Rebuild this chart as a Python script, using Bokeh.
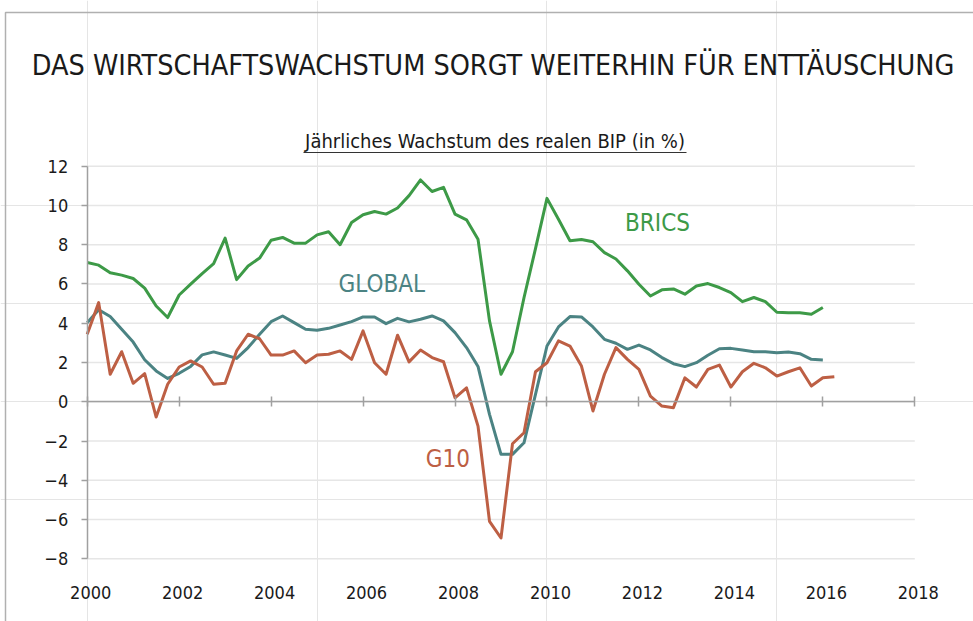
from bokeh.plotting import figure
from bokeh.models import Label, LinearAxis, FixedTicker, Range1d
from bokeh.embed import file_html
from bokeh.resources import INLINE

FONT = "DejaVu Sans Condensed, Roboto"

# Quarterly real GDP growth (%), starting Q1 2000
brics = [7.09, 6.96, 6.57, 6.45, 6.28, 5.79, 4.88, 4.29, 5.44, 5.99,
         6.53, 7.04, 8.34, 6.22, 6.92, 7.32, 8.23, 8.37, 8.08, 8.08,
         8.5, 8.66, 8.0, 9.13, 9.53, 9.69, 9.56, 9.87, 10.5, 11.3,
         10.71, 10.92, 9.56, 9.27, 8.28, 4.12, 1.4, 2.55, 5.3, 7.8,
         10.36, 9.3, 8.2, 8.27, 8.15, 7.6, 7.27, 6.67, 5.99, 5.39,
         5.7, 5.75, 5.48, 5.9, 6.02, 5.82, 5.56, 5.1, 5.31, 5.1,
         4.56, 4.53, 4.53, 4.46, 4.8]
global_ = [4.03, 4.69, 4.34, 3.69, 3.04, 2.14, 1.57, 1.19, 1.45, 1.8,
           2.39, 2.54, 2.38, 2.21, 2.76, 3.44, 4.08, 4.37, 4.03, 3.69,
           3.64, 3.74, 3.91, 4.08, 4.32, 4.32, 3.98, 4.25, 4.07, 4.2,
           4.37, 4.12, 3.52, 2.76, 1.8, -0.64, -2.68, -2.68, -2.09, 0.38,
           2.84, 3.81, 4.34, 4.32, 3.81, 3.18, 2.98, 2.67, 2.89, 2.64,
           2.25, 1.94, 1.79, 1.99, 2.37, 2.7, 2.72, 2.64, 2.55, 2.55,
           2.5, 2.53, 2.45, 2.16, 2.13]
g10 = [3.44, 5.05, 1.4, 2.55, 0.94, 1.43, -0.78, 0.89, 1.77, 2.08,
       1.77, 0.89, 0.94, 2.59, 3.44, 3.21, 2.38, 2.38, 2.59, 1.99,
       2.38, 2.42, 2.59, 2.16, 3.61, 1.99, 1.4, 3.39, 2.03, 2.64,
       2.25, 2.04, 0.2, 0.71, -1.24, -6.09, -6.94, -2.14, -1.58, 1.53,
       1.99, 3.1, 2.84, 1.82, -0.47, 1.4, 2.76, 2.16, 1.65, 0.29,
       -0.22, -0.3, 1.22, 0.75, 1.65, 1.87, 0.75, 1.53, 1.96, 1.73,
       1.31, 1.53, 1.73, 0.8, 1.22, 1.28]

start_year = 2000
x_ticks = [2000, 2002, 2004, 2006, 2008, 2010, 2012, 2014, 2016, 2018]
y_ticks = [-8, -6, -4, -2, 0, 2, 4, 6, 8, 10, 12]

title_text = "DAS WIRTSCHAFTSWACHSTUM SORGT WEITERHIN FÜR ENTTÄUSCHUNG"
subtitle_text = "Jährliches Wachstum des realen BIP (in %)"

C_BRICS = "#3d9a47"
C_GLOBAL = "#4b8383"
C_G10 = "#bd5f44"
GRID = "#e6e6e6"
AXIS = "#a0a0a0"
BORDER = "#b0b0b0"
TEXT = "#1a1a1a"

W, H = 973, 621
# plot area (pixels on the page) that holds 2000..2018 and -8..12
PX_L, PX_R, PX_T, PX_B = 86.7, 914.3, 165.7, 558.3
X0, X1 = x_ticks[0], x_ticks[-1]
Y0, Y1 = y_ticks[0], y_ticks[-1]
kx = (PX_R - PX_L) / (X1 - X0)
ky = (PX_B - PX_T) / (Y1 - Y0)
xr = Range1d(X0 - PX_L / kx, X0 + (W - PX_L) / kx)
yr = Range1d(Y1 - (H - PX_T) / ky, Y1 + PX_T / ky)
LABEL_SHIFT = 3.5  # year labels sit slightly right of their ticks


def sx(px):
    return X0 + (px - PX_L) / kx


def sy(py):
    return Y1 - (py - PX_T) / ky


def quarters(n):
    return [start_year + i / 4 for i in range(n)]


p = figure(width=W, height=H, output_backend="svg", toolbar_location=None,
           x_range=xr, y_range=yr, x_axis_location=None, y_axis_location=None,
           min_border=0)
p.extra_x_ranges = {"labels": Range1d(xr.start - LABEL_SHIFT / kx, xr.end - LABEL_SHIFT / kx)}
p.outline_line_color = None
p.background_fill_color = "white"
p.border_fill_color = "white"

# horizontal grid lines, limited to the plot period
p.segment(x0=[X0] * len(y_ticks), x1=[X1] * len(y_ticks), y0=y_ticks, y1=y_ticks,
          line_color=GRID, line_width=1.5)

# y axis at 2000
ya = LinearAxis(fixed_location=X0, bounds=(Y0, Y1), ticker=FixedTicker(ticks=y_ticks))
ya.axis_line_color = AXIS
ya.axis_line_width = 1.5
ya.major_tick_line_color = AXIS
ya.major_tick_line_width = 1.5
ya.major_tick_in = 0
ya.major_tick_out = 6
ya.minor_tick_line_color = None
ya.major_label_standoff = 13
ya.major_label_text_font = FONT
ya.major_label_text_font_size = "18px"
ya.major_label_text_color = TEXT
p.add_layout(ya, "left")

# zero line with ticks
za = LinearAxis(fixed_location=0, bounds=(X0, X1), ticker=FixedTicker(ticks=x_ticks),
                major_label_overrides={t: "" for t in x_ticks})
za.axis_line_color = AXIS
za.axis_line_width = 1.5
za.major_tick_line_color = AXIS
za.major_tick_line_width = 1.5
za.major_tick_in = 5
za.major_tick_out = 5
za.minor_tick_line_color = None
p.add_layout(za, "below")

# year labels under the plot
xa = LinearAxis(fixed_location=Y0, x_range_name="labels",
                ticker=FixedTicker(ticks=x_ticks))
xa.axis_line_color = None
xa.major_tick_line_color = None
xa.minor_tick_line_color = None
xa.major_label_standoff = 21
xa.major_label_text_font = FONT
xa.major_label_text_font_size = "18px"
xa.major_label_text_color = TEXT
p.add_layout(xa, "below")

for ys, col in [(global_, C_GLOBAL), (g10, C_G10), (brics, C_BRICS)]:
    p.line(quarters(len(ys)), ys, line_color=col, line_width=3, line_join="round")

for txt, px, py, col in [("BRICS", 657, 222, C_BRICS),
                         ("GLOBAL", 381.3, 283.3, C_GLOBAL),
                         ("G10", 447.3, 458.7, C_G10)]:
    p.add_layout(Label(x=sx(px), y=sy(py), text=txt, text_align="center",
                       text_baseline="middle", text_font=FONT,
                       text_font_size="24px", text_color=col))

p.add_layout(Label(x=sx(492.5), y=sy(65), text=title_text, text_align="center",
                   text_baseline="middle", text_font=FONT, text_font_size="28.5px",
                   text_color=TEXT))
p.add_layout(Label(x=sx(494.5), y=sy(140), text=subtitle_text, text_align="center",
                   text_baseline="middle", text_font=FONT, text_font_size="20px",
                   text_color=TEXT))
# underline of the subtitle
p.line([sx(303), sx(686)], [sy(152), sy(152)], line_color="#333333", line_width=1.2)
# page frame (top and left edges)
p.line([sx(5), sx(5), sx(W + 5)], [sy(H + 5), sy(12), sy(12)],
       line_color=BORDER, line_width=1.5)

open("out.html", "w").write(file_html(p, INLINE))
